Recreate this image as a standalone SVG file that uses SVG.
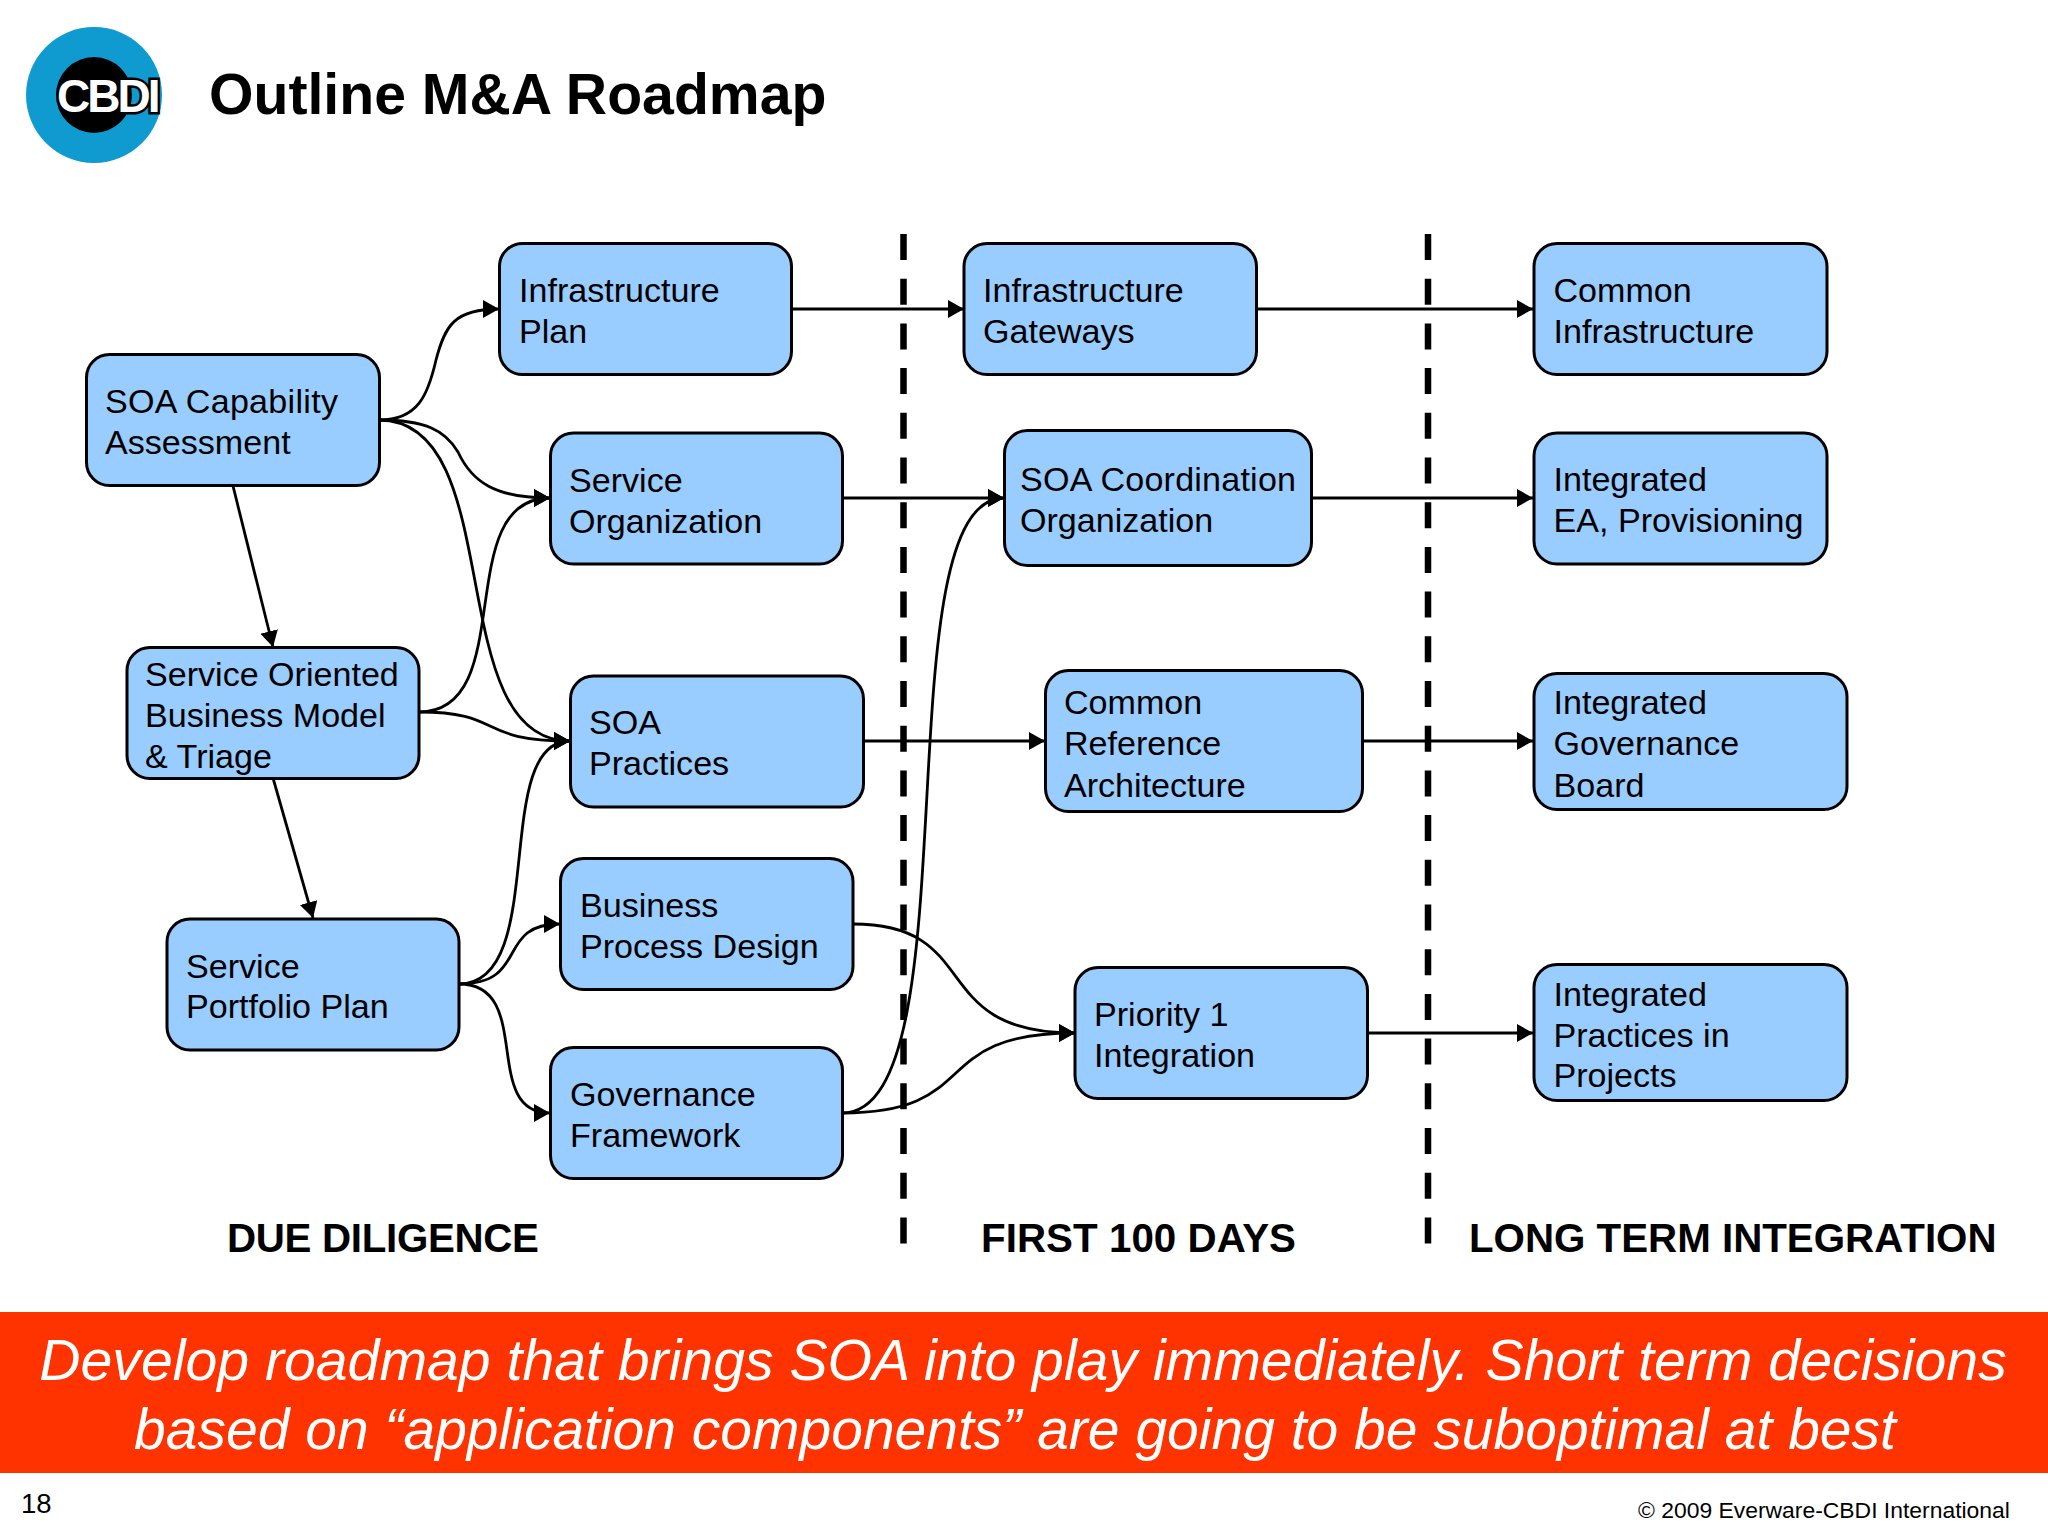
<svg xmlns="http://www.w3.org/2000/svg" width="2048" height="1536" viewBox="0 0 2048 1536">
<style>
text{font-family:"Liberation Sans",Arial,sans-serif;fill:#000}
.box{fill:#99CCFF;stroke:#000;stroke-width:3}
.lbl{font-size:34.1px}
.head{font-size:40.3px;font-weight:bold}
.div{stroke:#000;stroke-width:6.5;stroke-dasharray:26 18.7;fill:none}
.c{fill:none;stroke:#000;stroke-width:2.8}
.ban{font-size:57.2px;font-style:italic;fill:#fff;text-anchor:middle}
</style>
<defs>
<marker id="a" markerUnits="userSpaceOnUse" markerWidth="18" markerHeight="20" refX="16" refY="9" orient="auto"><path d="M0 0L16 9L0 18Z" fill="#000"/></marker>
</defs>
<rect width="2048" height="1536" fill="#fff"/>
<g id="logo">
<circle cx="94" cy="95" r="68" fill="#0F9BD0"/>
<circle cx="94" cy="95" r="38" fill="#000"/>
<text x="57" y="112" font-size="46" font-weight="bold" letter-spacing="-3" style="fill:#fff;stroke:#000;stroke-width:5;paint-order:stroke">CBDI</text>
</g>
<text x="209" y="114" font-size="57.2" font-weight="bold">Outline M&amp;A Roadmap</text>
<g id="dividers">
<line class="div" x1="903.5" y1="234" x2="903.5" y2="1244"/>
<line class="div" x1="1428" y1="234" x2="1428" y2="1244"/>
</g>
<g id="connectors" class="connectors">
<path class="c" marker-end="url(#a)" d="M379 420C418 420 428 395 436 360C445 325 455 309 499 309"/>
<path class="c" marker-end="url(#a)" d="M379 420C425 420 445 430 458 452C472 482 495 498 550 498"/>
<path class="c" marker-end="url(#a)" d="M379 420C510 420 440 741 570 741"/>
<path class="c" marker-end="url(#a)" d="M419 712C520 712 450 498 550 498"/>
<path class="c" marker-end="url(#a)" d="M419 712C505 712 475 741 570 741"/>
<path class="c" marker-end="url(#a)" d="M459 984C550 984 490 741 570 741"/>
<path class="c" marker-end="url(#a)" d="M459 984C530 984 495 924 560 924"/>
<path class="c" marker-end="url(#a)" d="M459 984C535 984 480 1113 550 1113"/>
<path class="c" marker-end="url(#a)" d="M853 924C985 924 925 1033 1075 1033"/>
<path class="c" marker-end="url(#a)" d="M842 1113C985 1113 925 1033 1075 1033"/>
<path class="c" marker-end="url(#a)" d="M842 1113C975 1113 880 498 1004 498"/>
<path class="c" marker-end="url(#a)" d="M792 309H964"/>
<path class="c" marker-end="url(#a)" d="M1256 309H1533"/>
<path class="c" marker-end="url(#a)" d="M842 498H1004"/>
<path class="c" marker-end="url(#a)" d="M1311 498H1533"/>
<path class="c" marker-end="url(#a)" d="M863 741H1045"/>
<path class="c" marker-end="url(#a)" d="M1362 741H1533"/>
<path class="c" marker-end="url(#a)" d="M1367 1033H1533"/>
<path class="c" marker-end="url(#a)" d="M233 486L273 647"/>
<path class="c" marker-end="url(#a)" d="M273 778L313 918"/>
</g>
<g id="soa-capability"><rect class="box" x="86.500" y="354.500" width="293" height="131" rx="23"/><text class="lbl" x="105" y="413" textLength="233">SOA Capability</text><text class="lbl" x="105" y="454">Assessment</text></g>
<g id="infrastructure-plan"><rect class="box" x="499.500" y="243.500" width="292" height="131" rx="23"/><text class="lbl" x="519" y="302">Infrastructure</text><text class="lbl" x="519" y="343">Plan</text></g>
<g id="service-organization"><rect class="box" x="550.500" y="433" width="292" height="131" rx="23"/><text class="lbl" x="569" y="492">Service</text><text class="lbl" x="569" y="533">Organization</text></g>
<g id="soa-practices"><rect class="box" x="570.500" y="676" width="293" height="131" rx="23"/><text class="lbl" x="589" y="734">SOA</text><text class="lbl" x="589" y="775">Practices</text></g>
<g id="service-oriented"><rect class="box" x="127" y="647.500" width="292" height="131" rx="23"/><text class="lbl" x="145" y="685.500">Service Oriented</text><text class="lbl" x="145" y="727">Business Model</text><text class="lbl" x="145" y="767.500">&amp; Triage</text></g>
<g id="portfolio-plan"><rect class="box" x="167" y="919" width="292" height="131" rx="23"/><text class="lbl" x="186" y="978">Service</text><text class="lbl" x="186" y="1018">Portfolio Plan</text></g>
<g id="business-process"><rect class="box" x="560.500" y="858.500" width="292.500" height="131" rx="23"/><text class="lbl" x="580" y="917">Business</text><text class="lbl" x="580" y="958">Process Design</text></g>
<g id="governance"><rect class="box" x="550.500" y="1047.500" width="292" height="131" rx="23"/><text class="lbl" x="570" y="1106">Governance</text><text class="lbl" x="570" y="1147">Framework</text></g>
<g id="priority"><rect class="box" x="1075" y="967.500" width="292.500" height="131" rx="23"/><text class="lbl" x="1094" y="1026">Priority 1</text><text class="lbl" x="1094" y="1067">Integration</text></g>
<g id="gateways"><rect class="box" x="964" y="243.500" width="292.500" height="131" rx="23"/><text class="lbl" x="983" y="302">Infrastructure</text><text class="lbl" x="983" y="343">Gateways</text></g>
<g id="soa-coordination"><rect class="box" x="1004.500" y="430.500" width="307" height="135" rx="23"/><text class="lbl" x="1020" y="491" textLength="276">SOA Coordination</text><text class="lbl" x="1020" y="532">Organization</text></g>
<g id="common-reference"><rect class="box" x="1045.500" y="670.500" width="317" height="141" rx="23"/><text class="lbl" x="1064" y="714">Common</text><text class="lbl" x="1064" y="755">Reference</text><text class="lbl" x="1064" y="796.500">Architecture</text></g>
<g id="common-infrastructure"><rect class="box" x="1534" y="243.500" width="293" height="131" rx="23"/><text class="lbl" x="1553.500" y="302">Common</text><text class="lbl" x="1553.500" y="343">Infrastructure</text></g>
<g id="integrated-ea"><rect class="box" x="1534" y="433" width="293" height="131" rx="23"/><text class="lbl" x="1553.500" y="491">Integrated</text><text class="lbl" x="1553.500" y="532">EA, Provisioning</text></g>
<g id="integrated-governance"><rect class="box" x="1534" y="673.500" width="313" height="136" rx="23"/><text class="lbl" x="1553.500" y="714">Integrated</text><text class="lbl" x="1553.500" y="755">Governance</text><text class="lbl" x="1553.500" y="796.500">Board</text></g>
<g id="integrated-practices"><rect class="box" x="1534" y="964.500" width="313" height="136" rx="23"/><text class="lbl" x="1553.500" y="1006">Integrated</text><text class="lbl" x="1553.500" y="1047">Practices in</text><text class="lbl" x="1553.500" y="1087">Projects</text></g>
<text class="head" x="227" y="1252" textLength="312">DUE DILIGENCE</text>
<text class="head" x="981" y="1252" textLength="315">FIRST 100 DAYS</text>
<text class="head" x="1469" y="1252">LONG TERM INTEGRATION</text>
<rect y="1312" width="2048" height="161" fill="#FF3300"/>
<text class="ban" x="1023" y="1379.500">Develop roadmap that brings SOA into play immediately. Short term decisions</text>
<text class="ban" x="1015" y="1448.500" style="font-size:57px">based on “application components” are going to be suboptimal at best</text>
<text x="21" y="1513" font-size="27.500">18</text>
<text x="1638" y="1518" font-size="22.900">© 2009 Everware-CBDI International</text>
</svg>
